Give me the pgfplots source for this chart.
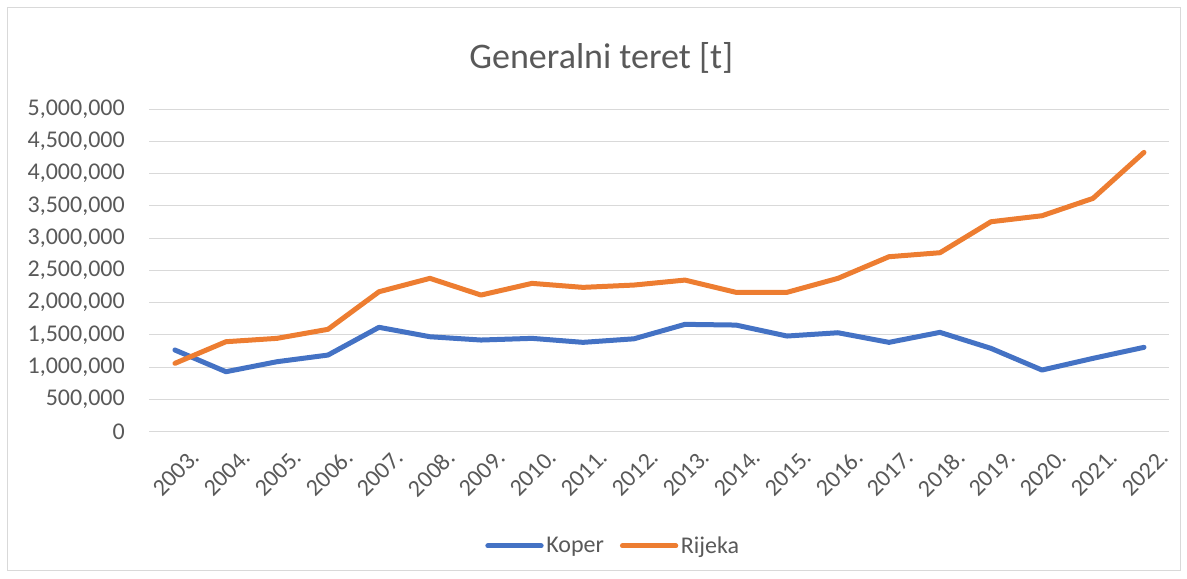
\documentclass[border=0pt]{standalone}
\usepackage{pgfplots}
\pgfplotsset{compat=1.18}
\usepackage{fontspec}
\setmainfont{Carlito}
\definecolor{kblue}{HTML}{4472C4}
\definecolor{rorange}{HTML}{ED7D31}
\definecolor{gridc}{HTML}{D9D9D9}
\definecolor{txt}{HTML}{595959}
\begin{document}
\begin{tikzpicture}
\path (0pt,0pt) rectangle (890.25pt,433.5pt);
\draw[gridc, line width=0.75pt] (5.25pt,6pt) rectangle (885pt,427.5pt);
\node[text=txt, font=\fontsize{27}{30}\selectfont] at (451pt,390pt) {Generalni teret [t]};
\begin{axis}[
  at={(112.1pt,109.7pt)}, anchor=south west,
  scale only axis, width=765pt, height=242pt,
  xmin=-0.5, xmax=19.5, ymin=0, ymax=5000000,
  xtick={0,...,19},
  xticklabels={2003.,2004.,2005.,2006.,2007.,2008.,2009.,2010.,2011.,2012.,2013.,2014.,2015.,2016.,2017.,2018.,2019.,2020.,2021.,2022.},
  ytick distance=500000,
  scaled y ticks=false,
  /pgf/number format/.cd, fixed, 1000 sep={,}, assume math mode=true,
  /pgfplots/.cd,
  axis line style={draw=none},
  major tick length=0pt,
  ymajorgrids, grid style={gridc, line width=0.75pt},
  tick label style={text=txt, font=\fontsize{18}{20}\selectfont},
  yticklabel style={xshift=-15pt},
  xticklabel style={rotate=45, anchor=north east, xshift=3pt, yshift=-13pt},
  legend columns=2,
  legend style={at={(axis description cs:0.455,-0.354)}, anchor=center, draw=none, fill=none,
     font=\fontsize{18}{20}\selectfont, text=txt, /tikz/every even column/.append style={column sep=10pt}},
  legend image code/.code={\draw[#1, line cap=round] (0pt,0pt) -- (40pt,0pt);},
]
\addplot[kblue, line width=3.75pt, line join=round, line cap=round] coordinates {
(0,1266000) (1,930000) (2,1085000) (3,1188000) (4,1618000) (5,1472000) (6,1421000) (7,1447000) (8,1385000) (9,1440000)
(10,1664000) (11,1653000) (12,1483000) (13,1534000) (14,1385000) (15,1540000) (16,1292000) (17,956000) (18,1137000) (19,1308000)};
\addlegendentry{Koper}
\addplot[rorange, line width=3.75pt, line join=round, line cap=round] coordinates {
(0,1060000) (1,1395000) (2,1447000) (3,1587000) (4,2169000) (5,2377000) (6,2118000) (7,2299000) (8,2237000) (9,2273000)
(10,2350000) (11,2160000) (12,2160000) (13,2377000) (14,2712000) (15,2774000) (16,3254000) (17,3347000) (18,3616000) (19,4329000)};
\addlegendentry{Rijeka}
\end{axis}
\end{tikzpicture}
\end{document}
